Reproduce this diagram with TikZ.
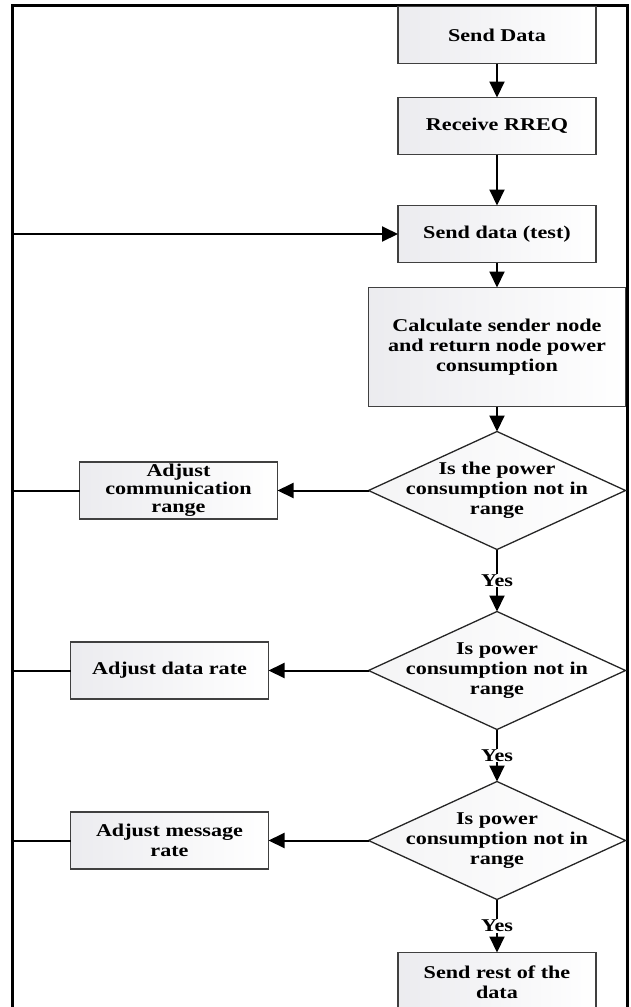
\documentclass[tikz,border=0pt]{standalone}
\usepackage{fontspec}
\setmainfont{Liberation Serif}[FakeStretch=1.23]
\usepackage{tikz}
\usetikzlibrary{positioning,arrows.meta,shapes.geometric}
\tikzset{
    powertext/.style={font=\fontsize{18}{20}\selectfont\bfseries},
    powerbox/.style={draw=black!75, line width=1.3pt, outer sep=0pt, left color=blue!10!gray!14, right color=white, align=center, minimum width=198pt, minimum height=57pt, inner sep=1pt, powertext},
    powercalc/.style={powerbox, minimum width=257pt, minimum height=119pt},
    powerdecision/.style={draw=black!85, line width=1.3pt, outer sep=0pt, diamond, aspect=2.18, left color=blue!6!gray!8, right color=white, align=center, minimum width=257pt, minimum height=118pt, inner sep=-8pt, powertext},
    powerarrow/.style={draw, line width=2pt, -{Triangle[length=16pt, width=15pt]}},
    powerline/.style={draw, line width=2pt},
    poweryes/.style={fill=white, inner sep=1pt, powertext},
    powerframe/.style={draw, line width=3pt}
}
\begin{document}
\begin{tikzpicture}[x=1pt, y=1pt]
    \useasboundingbox (0,0) rectangle (631,-1007);
    \clip (0,0) rectangle (631,-1007);
    \draw[powerframe] (12.5,-1012) |- (627,-5) -- (627,-1012);

    \node[powerbox] (senddata) at (497,-35) {Send Data};
    \node[powerbox, below=34pt of senddata] (rreq) {Receive RREQ};
    \node[powerbox, below=51pt of rreq] (sendtest) {Send data (test)};
    \node[powercalc, below=25pt of sendtest] (calc) {Calculate sender node\\and return node power\\consumption};
    \node[powerdecision, below=25pt of calc] (rangeone) {Is the power\\consumption not in\\range};
    \node[powerbox, left=91pt of rangeone, font=\fontsize{18}{18}\selectfont\bfseries] (commrange) {Adjust\\communication\\range};
    \node[powerdecision, below=62pt of rangeone] (rangetwo) {Is power\\consumption not in\\range};
    \node[powerbox, left=100pt of rangetwo] (datarate) {Adjust data rate};
    \node[powerdecision, below=52pt of rangetwo] (rangethree) {Is power\\consumption not in\\range};
    \node[powerbox, left=100pt of rangethree] (msgrate) {Adjust message\\rate};
    \node[powerbox, below=53pt of rangethree, minimum height=60pt] (sendrest) {Send rest of the\\data};
    \coordinate (loopx) at (13,0);

    \draw[powerarrow] (senddata) -- (rreq);
    \draw[powerarrow] (rreq) -- (sendtest);
    \draw[powerarrow] (sendtest) -- (calc);
    \draw[powerarrow] (calc) -- (rangeone);
    \draw[powerarrow] (rangeone) -- (commrange);
    \draw[powerarrow] (rangetwo) -- (datarate);
    \draw[powerarrow] (rangethree) -- (msgrate);
    \draw[powerarrow] (rangeone) -- node[poweryes] {Yes} (rangetwo);
    \draw[powerarrow] (rangetwo) -- node[poweryes] {Yes} (rangethree);
    \draw[powerarrow] (rangethree) -- node[poweryes] {Yes} (sendrest);

    \draw[powerline] (commrange.west) -- (commrange.west -| loopx);
    \draw[powerline] (datarate.west) -- (datarate.west -| loopx);
    \draw[powerarrow] (msgrate.west) -- (msgrate.west -| loopx) |- (sendtest.west);
\end{tikzpicture}
\end{document}
